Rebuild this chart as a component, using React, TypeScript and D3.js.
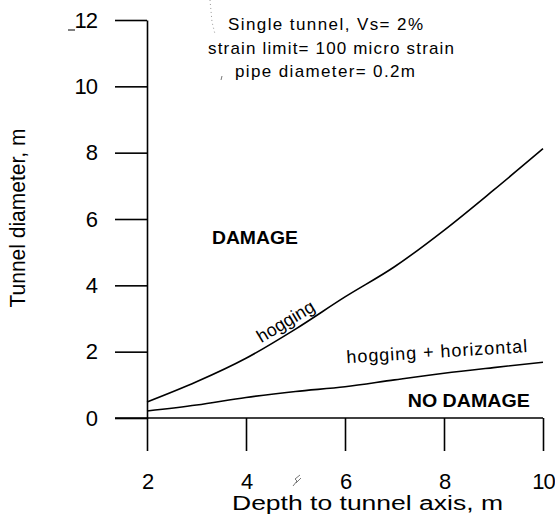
import { useEffect, useRef } from "react";
import * as d3 from "d3";

// depth to tunnel axis (m)
const depth = [2, 3, 4, 5, 6, 7, 8, 9, 10];
// limiting tunnel diameter (m) for each criterion
const hogging = [0.48, 1.09, 1.8, 2.68, 3.65, 4.56, 5.66, 6.87, 8.12];
const hoggingHorizontal = [0.21, 0.39, 0.62, 0.8, 0.94, 1.15, 1.35, 1.52, 1.68];

const xTicks = [2, 4, 6, 8, 10];
const yTicks = [0, 2, 4, 6, 8, 10, 12];

const noteLines = [
    "Single tunnel, Vs= 2%",
    "strain limit= 100 micro strain",
    "pipe diameter= 0.2m",
];

const App = () => {
    const ref = useRef<HTMLDivElement>(null);

    useEffect(() => {
        const width = 555;
        const height = 515;
        const font = "'Liberation Sans', Arial, sans-serif";

        const x = d3.scaleLinear([2, 10], [147, 543]);
        const y = d3.scaleLinear([0, 12], [418, 20]);

        const svg = d3
            .create("svg")
            .attr("width", width)
            .attr("height", height)
            .attr("viewBox", [0, 0, width, height])
            .style("position", "absolute")
            .style("left", "0px")
            .style("top", "0px")
            .style("background", "#fff")
            .style("font-family", font);

        // x axis: long ticks pointing down, line runs a bit left of the y axis
        svg.append("g")
            .attr("transform", `translate(0,${y(0)})`)
            .call(d3.axisBottom(x).tickValues(xTicks).tickSize(33).tickPadding(22).tickSizeOuter(0))
            .call((g) => g.select(".domain").remove())
            .call((g) => g.selectAll(".tick line").attr("stroke", "#000").attr("stroke-width", 1.6))
            .call((g) =>
                g.selectAll(".tick text")
                    .attr("fill", "#000")
                    .attr("font-size", 22)
                    .attr("letter-spacing", -1)
                    .attr("font-family", font)
            );
        svg.append("line")
            .attr("x1", 115)
            .attr("x2", x(10))
            .attr("y1", y(0))
            .attr("y2", y(0))
            .attr("stroke", "#000")
            .attr("stroke-width", 1.6);

        // y axis
        svg.append("g")
            .attr("transform", `translate(${x(2)},0)`)
            .call(d3.axisLeft(y).tickValues(yTicks).tickSize(32).tickPadding(18).tickSizeOuter(0))
            .call((g) => g.select(".domain").attr("stroke", "#000").attr("stroke-width", 1.6))
            .call((g) => g.selectAll(".tick line").attr("stroke", "#000").attr("stroke-width", 1.6))
            .call((g) =>
                g.selectAll(".tick text")
                    .attr("fill", "#000")
                    .attr("font-size", 22)
                    .attr("letter-spacing", -1)
                    .attr("font-family", font)
            );

        // stray scan marks
        svg.append("line")
            .attr("x1", 68).attr("x2", 75).attr("y1", 30).attr("y2", 30)
            .attr("stroke", "#000").attr("stroke-width", 1);
        svg.append("path")
            .attr("d", "M210,0 L212,22 L215,34")
            .attr("fill", "none")
            .attr("stroke", "#999")
            .attr("stroke-width", 1)
            .attr("stroke-dasharray", "1,3");
        svg.append("path")
            .attr("d", "M222,76 L221,80 M293,486 L297,481 L295,479 L300,475 M296,483 L301,478")
            .attr("fill", "none")
            .attr("stroke", "#777")
            .attr("stroke-width", 1);

        // axis titles
        svg.append("text")
            .attr("x", 367.5)
            .attr("y", 510)
            .attr("text-anchor", "middle")
            .attr("font-size", 20)
            .attr("textLength", 271)
            .attr("lengthAdjust", "spacingAndGlyphs")
            .text("Depth to tunnel axis, m");
        svg.append("text")
            .attr("transform", `translate(25,218) rotate(-90)`)
            .attr("text-anchor", "middle")
            .attr("font-size", 22)
            .attr("textLength", 179)
            .attr("lengthAdjust", "spacingAndGlyphs")
            .text("Tunnel diameter, m");

        // curves
        const line = d3
            .line<number>()
            .x((_, i) => x(depth[i]))
            .y((d) => y(d))
            .curve(d3.curveMonotoneX);

        [hogging, hoggingHorizontal].forEach((series) => {
            svg.append("path")
                .attr("fill", "none")
                .attr("stroke", "#000")
                .attr("stroke-width", 1.6)
                .attr("d", line(series));
        });

        // note in the top
        const noteX = [325.5, 331, 325];
        const noteY = [30, 54, 77];
        const noteW = [195, 246, 180];
        svg.append("g")
            .selectAll("text")
            .data(noteLines)
            .join("text")
            .attr("x", (_, i) => noteX[i])
            .attr("y", (_, i) => noteY[i])
            .attr("text-anchor", "middle")
            .attr("font-size", 17)
            .attr("textLength", (_, i) => noteW[i])
            .attr("lengthAdjust", "spacing")
            .text((d) => d);

        // region and curve labels
        svg.append("text")
            .attr("x", x(4.18))
            .attr("y", y(5.42) + 6)
            .attr("text-anchor", "middle")
            .attr("font-size", 18)
            .attr("font-weight", "bold")
            .attr("textLength", 86)
            .attr("lengthAdjust", "spacingAndGlyphs")
            .text("DAMAGE");
        svg.append("text")
            .attr("x", x(8.5))
            .attr("y", y(0.33))
            .attr("text-anchor", "middle")
            .attr("font-size", 18)
            .attr("font-weight", "bold")
            .attr("textLength", 122)
            .attr("lengthAdjust", "spacingAndGlyphs")
            .text("NO DAMAGE");
        svg.append("text")
            .attr("transform", `translate(286,322) rotate(-31)`)
            .attr("text-anchor", "middle")
            .attr("dy", "0.3em")
            .attr("font-size", 18)
            .text("hogging");
        svg.append("text")
            .attr("transform", `translate(${x(7.86)},${y(1.82)}) rotate(-3.5)`)
            .attr("text-anchor", "middle")
            .attr("font-size", 18)
            .attr("textLength", 181)
            .attr("lengthAdjust", "spacing")
            .text("hogging + horizontal");

        ref.current!.innerHTML = "";
        ref.current!.appendChild(svg.node()!);
    }, []);

    return <div ref={ref}></div>;
};

export default App;
